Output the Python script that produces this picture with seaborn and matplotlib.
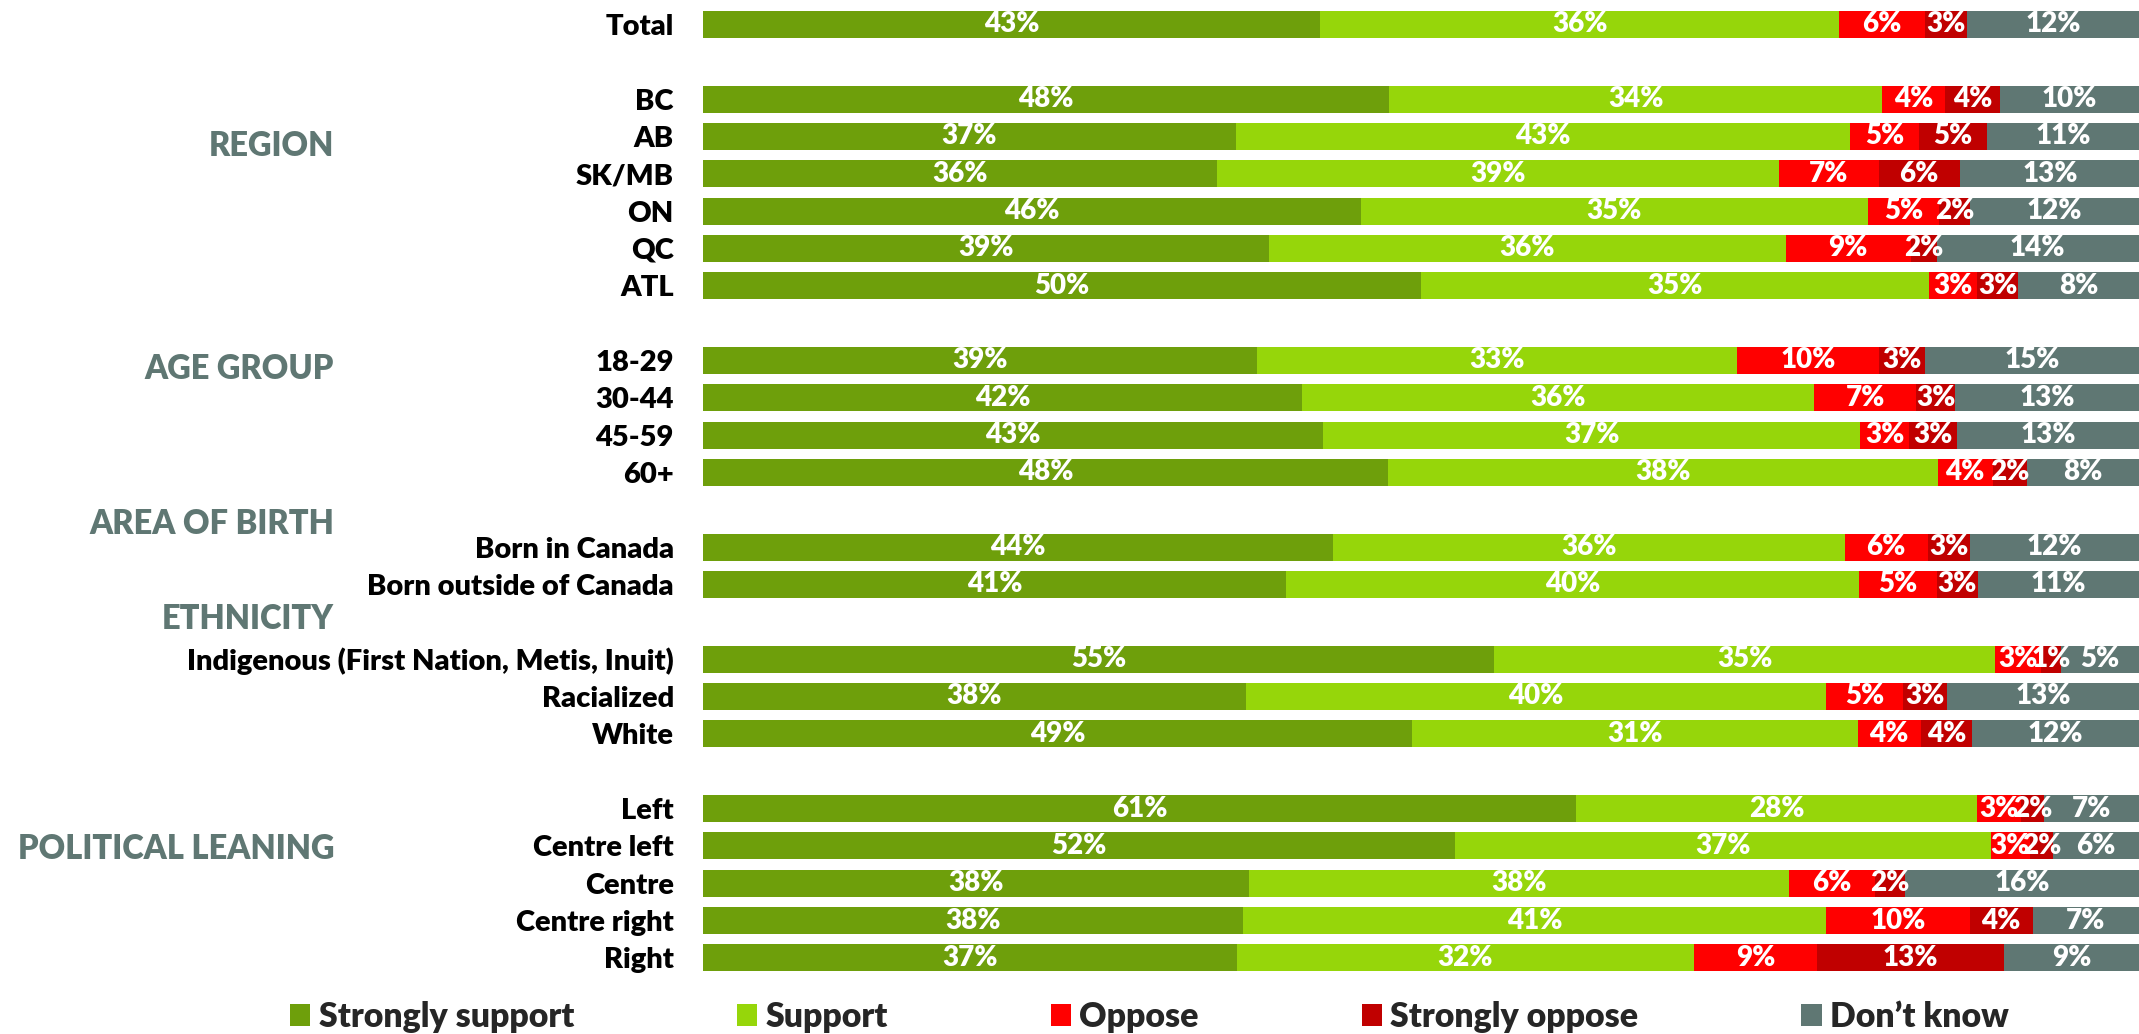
import pandas as pd
import numpy as np
import matplotlib.pyplot as plt
import matplotlib.transforms as mtransforms
from matplotlib.patches import Patch
import seaborn as sns

rows = ["Total", "BC", "AB", "SK/MB", "ON", "QC", "ATL",
        "18-29", "30-44", "45-59", "60+",
        "Born in Canada", "Born outside of Canada",
        "Indigenous (First Nation, Metis, Inuit)", "Racialized", "White",
        "Left", "Centre left", "Centre", "Centre right", "Right"]

strongly_support = [43.0, 47.8, 37.1, 35.8, 45.8, 39.4, 50.0, 38.6, 41.7, 43.2, 47.7, 43.9, 40.6, 55.1, 37.8, 49.4, 60.8, 52.4, 38.0, 37.6, 37.2]
support = [36.1, 34.3, 42.8, 39.1, 35.3, 36.0, 35.4, 33.4, 35.7, 37.4, 38.3, 35.6, 39.9, 34.9, 40.4, 31.0, 27.9, 37.3, 37.6, 40.6, 31.8]
oppose = [6.0, 4.4, 4.8, 7.0, 5.0, 8.7, 3.3, 9.9, 7.1, 3.4, 3.8, 5.8, 5.4, 3.2, 5.4, 4.4, 3.1, 2.7, 6.0, 10.0, 8.6]
strongly_oppose = [2.9, 3.8, 4.7, 5.6, 2.1, 1.8, 2.9, 3.2, 2.7, 3.3, 2.4, 2.9, 2.9, 1.4, 3.0, 3.6, 1.6, 1.6, 2.1, 4.4, 13.0]
dont_know = [12.0, 9.7, 10.7, 12.6, 11.8, 14.1, 8.4, 14.9, 12.8, 12.7, 7.8, 11.8, 11.2, 5.4, 13.4, 11.6, 6.6, 6.0, 16.3, 7.4, 9.4]

categories = ["Strongly support", "Support", "Oppose", "Strongly oppose", "Don\u2019t know"]
colors = ["#6e9f0b", "#96d60a", "#ff0000", "#c00000", "#5f7773"]

groups = ["REGION", "AGE GROUP", "AREA OF BIRTH", "ETHNICITY", "POLITICAL LEANING"]

# vertical slots (gaps between groups)
slots = [0, 2, 3, 4, 5, 6, 7, 9, 10, 11, 12, 14, 15, 17, 18, 19, 21, 22, 23, 24, 25]
group_y = [3.25, 9.23, 13.38, 15.93, 22.09]

sns.set_style("white")
plt.rcParams['font.family'] = ['Lato', 'DejaVu Sans']
W = "heavy"

series = [strongly_support, support, oppose, strongly_oppose, dont_know]
recs = []
for cat, vals in zip(categories, series):
    for r, s, v in zip(rows, slots, vals):
        recs.append({"row": r, "slot": s, "cat": cat, "value": v})
df = pd.DataFrame(recs)
df["start"] = df.groupby("row")["value"].cumsum() - df["value"]
df["end"] = df["start"] + df["value"]

fig = plt.figure(figsize=(21.39, 10.34), dpi=100)
ax = fig.add_axes([703 / 2139, 0.0556, 1436 / 2139, 0.9388])

# draw the stack from the right so shorter cumulative bars sit on top
for cat, col in reversed(list(zip(categories, colors))):
    sub = df[df["cat"] == cat]
    sns.barplot(data=sub, x="end", y="slot", orient="h", native_scale=True,
                color=col, width=0.73, linewidth=0, saturation=1, ax=ax)

for _, r in df.iterrows():
    ax.text(r["start"] + r["value"] / 2, r["slot"], f"{round(r['value'])}%",
            ha="center", va="center", color="white", fontsize=20, fontweight=W)

ax.set_xlim(0, 100)
ax.set_ylim(25.5, -0.5)
ax.set_yticks(slots)
ax.set_yticklabels(rows, fontsize=21, fontweight=W, color="black")
ax.tick_params(axis="y", length=0, pad=21)
ax.set_xticks([])
ax.set_xlabel("")
ax.set_ylabel("")
sns.despine(ax=ax, left=True, bottom=True)

trans = mtransforms.blended_transform_factory(fig.transFigure, ax.transData)
for g, gy in zip(groups, group_y):
    ax.text(334 / 2139, gy, g, transform=trans, ha="right", va="center",
            fontsize=23.5, fontweight=W, color="#5f7773")

handles = [Patch(facecolor=c, edgecolor="none") for c in colors]
fig.legend(handles, categories, loc="center left", bbox_to_anchor=(290 / 2139, 0.0164),
           ncol=5, frameon=False, prop={"size": 24.4, "weight": W},
           handlelength=0.6, handleheight=0.6,
           handletextpad=0.25, columnspacing=4.8, borderpad=0, borderaxespad=0)

plt.savefig("out.png", dpi=100)
